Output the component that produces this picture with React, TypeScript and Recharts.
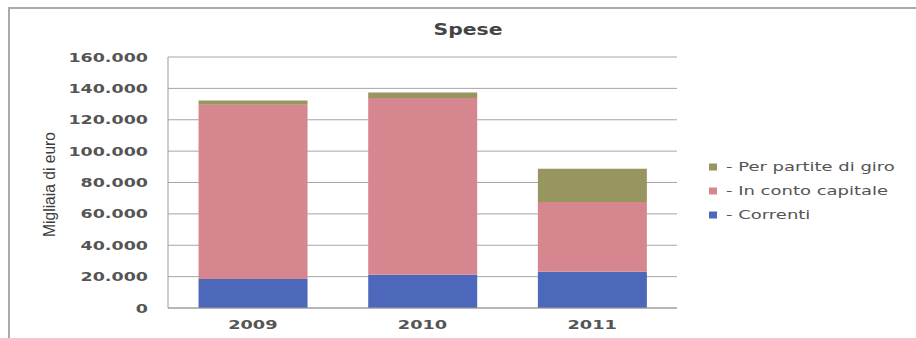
import React from "react";
import { BarChart, Bar, XAxis, YAxis, CartesianGrid, Legend } from "recharts";

// Spese (migliaia di euro) per anno
const years = ["2009", "2010", "2011"];
const correnti = [18500, 21200, 23100];
const contoCapitale = [111000, 112600, 44400];
const partiteDiGiro = [2700, 3500, 21200];
const yTicks = [0, 20000, 40000, 60000, 80000, 100000, 120000, 140000, 160000];

const data = years.map((year, i) => ({
  year,
  correnti: correnti[i],
  contoCapitale: contoCapitale[i],
  partiteDiGiro: partiteDiGiro[i],
}));

const FONT = "'DejaVu Sans', Verdana, sans-serif";
const TEXT = "#555555";

const fmt = (v: number) => (v === 0 ? "0" : v.toLocaleString("it-IT"));

const YTick = (props: any) => {
  const { x, y, payload } = props;
  return (
    <g transform={`translate(${x},${y}) scale(1.4,1)`}>
      <text x={0} y={4.5} textAnchor="end" fontFamily={FONT} fontWeight="bold" fontSize={12.5} fill={TEXT}>
        {fmt(payload.value)}
      </text>
    </g>
  );
};

const XTick = (props: any) => {
  const { x, y, payload } = props;
  return (
    <g transform={`translate(${x},${y}) scale(1.42,1)`}>
      <text x={0} y={17} textAnchor="middle" fontFamily={FONT} fontWeight="bold" fontSize={12.5} fill={TEXT}>
        {payload.value}
      </text>
    </g>
  );
};

const YTitle = (props: any) => {
  const vb = props.viewBox || { x: 0, y: 0, width: 0, height: 0 };
  const cx = vb.x + 50;
  const cy = vb.y + vb.height / 2 + 2;
  return (
    <g transform={`translate(${cx},${cy}) rotate(-90) scale(1.3,1.35)`}>
      <text x={0} y={4} textAnchor="middle" fontFamily="'Liberation Sans', Arial, sans-serif" fontSize={12} fill="#3c3c3c">
        Migliaia di euro
      </text>
    </g>
  );
};

const LegendBox = (props: any) => {
  const items = [...(props.payload || [])].reverse();
  return (
    <svg width={216} height={80} style={{ display: "block" }}>
      {items.map((it: any, i: number) => {
        const cy = 17 + i * 24;
        return (
          <g key={it.value}>
            <rect x={9} y={cy - 3.5} width={8} height={7} fill={it.color} />
            <g transform={`translate(26,${cy}) scale(1.5,1)`}>
              <text x={0} y={4} fontFamily={FONT} fontSize={12} fill={TEXT}>
                {"- " + it.value}
              </text>
            </g>
          </g>
        );
      })}
    </svg>
  );
};

export default function App() {
  return (
    <div style={{ position: "absolute", left: 0, top: 0, width: 916, height: 338, background: "#fff", overflow: "hidden" }}>
      <div
        style={{
          position: "absolute",
          left: 8,
          top: 7,
          width: 940,
          height: 360,
          borderLeft: "2px solid #aaa",
          borderTop: "2px solid #aaa",
        }}
      />
      <svg width={916} height={60} style={{ position: "absolute", left: 0, top: 0 }}>
        <g transform="translate(468,35) scale(1.36,1)">
          <text x={0} y={0} textAnchor="middle" fontFamily={FONT} fontWeight="bold" fontSize={15} fill="#444">
            Spese
          </text>
        </g>
      </svg>
      <div style={{ position: "absolute", left: 0, top: 0 }}>
        <BarChart
          width={916}
          height={338}
          data={data}
          margin={{ top: 57, right: 239, bottom: 0, left: 0 }}
          barCategoryGap="18%"
        >
          <CartesianGrid vertical={false} stroke="#a6a6a6" strokeWidth={1} />
          <XAxis
            dataKey="year"
            height={30}
            axisLine={{ stroke: "#9a9a9a" }}
            tickLine={false}
            tickSize={0}
            tickMargin={4}
            tick={<XTick />}
          />
          <YAxis
            width={168}
            domain={[0, 160000]}
            ticks={yTicks}
            interval={0}
            axisLine={{ stroke: "#9a9a9a" }}
            tickLine={false}
            tickSize={0}
            tickMargin={20}
            tick={<YTick />}
            label={<YTitle />}
          />
          <Legend
            layout="horizontal"
            verticalAlign="middle"
            align="center"
            wrapperStyle={{ position: "absolute", left: 700, top: 150, width: 216, height: 80 }}
            content={<LegendBox />}
          />
          <Bar dataKey="correnti" name="Correnti" stackId="s" fill="#4d68bb" isAnimationActive={false} />
          <Bar dataKey="contoCapitale" name="In conto capitale" stackId="s" fill="#d6868f" isAnimationActive={false} />
          <Bar dataKey="partiteDiGiro" name="Per partite di giro" stackId="s" fill="#989660" isAnimationActive={false} />
        </BarChart>
      </div>
    </div>
  );
}
